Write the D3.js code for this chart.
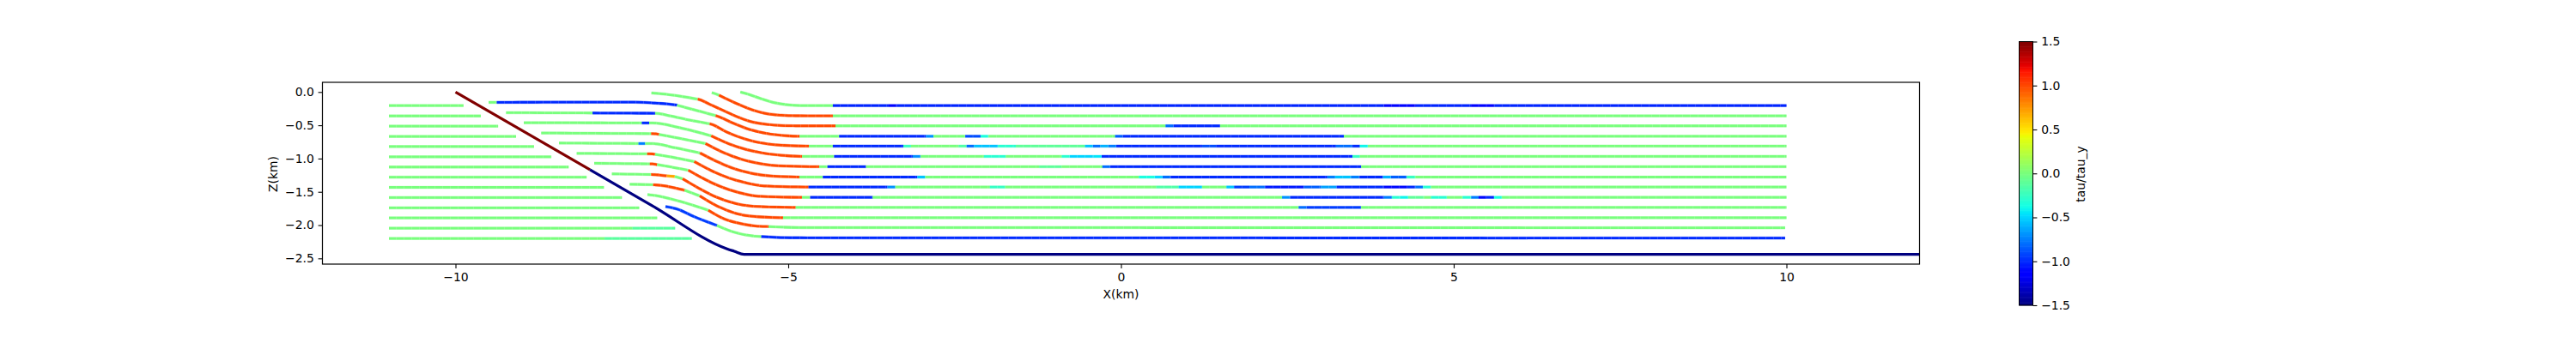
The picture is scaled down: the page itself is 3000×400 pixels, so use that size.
<!DOCTYPE html>
<html><head><meta charset="utf-8">
<script src="https://cdn.jsdelivr.net/npm/d3@7/dist/d3.min.js"></script>
<style>html,body{margin:0;padding:0;background:#fff}svg{display:block}text{font-family:"DejaVu Sans";fill:#000}</style>
</head><body><svg id="c" width="3000" height="400"></svg>
<script>
const xDomain=[-12,12], zDomain=[-2.586,0.1456], tauDomain=[-1.5,1.5];
const xTicks=[-10,-5,0,5,10], zTicks=[0,-0.5,-1,-1.5,-2,-2.5], tauTicks=[-1.5,-1,-0.5,0,0.5,1,1.5];
const xLabel="X(km)", zLabel="Z(km)", tauLabel="tau/tau_y";
// fault trace and its stress runs [xEnd,tau]
const faultKnots=[[-10,0],[-7.04,-1.712],[-5.92,-2.357],[-5.813,-2.392],[-5.663,-2.439],[12,-2.44]];
const faultRuns=[[-7.98,1.5],[12,-1.5]];
// footwall layers
const footwallStart=-11;
const footwallZ=[-0.205,-0.36,-0.513,-0.667,-0.82,-0.973,-1.127,-1.28,-1.433,-1.587,-1.74,-1.893,-2.046,-2.2];
const footwallRuns=[
 [[-9.88,0]],[[-9.62,0]],[[-9.36,0]],[[-9.09,0]],[[-8.82,0]],[[-8.56,0]],[[-8.30,0]],
 [[-8.03,0]],[[-7.77,0]],[[-7.50,0]],[[-7.24,0]],[[-6.97,0]],
 [[-7.34,0],[-6.70,-0.12]],[[-7.76,0],[-6.45,-0.12]]
];
// hanging-wall layers: knots [x,z]
const hangingKnots=[
 [[-5.72,0],[-5.58,-0.04],[-5.41,-0.10],[-5.23,-0.155],[-5.02,-0.19],[-4.80,-0.203],[-4.33,-0.205],[10,-0.203]],
 [[-6.149,-0.009],[-6.041,-0.048],[-5.749,-0.185],[-5.534,-0.271],[-5.319,-0.327],[-5.104,-0.349],[-4.888,-0.357],[-4.329,-0.358],[10,-0.358]],
 [[-7.056,-0.014],[-6.824,-0.035],[-6.609,-0.065],[-6.359,-0.108],[-6.179,-0.185],[-5.964,-0.284],[-5.749,-0.379],[-5.534,-0.452],[-5.319,-0.486],[-5.104,-0.503],[-4.888,-0.508],[-4.29,-0.508],[10,-0.508]],
 [[-9.503,-0.155],[-7.34,-0.152],[-7.04,-0.164],[-6.673,-0.198],[-6.351,-0.284],[-6.084,-0.357],[-5.835,-0.465],[-5.577,-0.564],[-5.319,-0.624],[-5.061,-0.654],[-4.833,-0.665],[10,-0.665]],
 [[-9.24,-0.31],[-6.996,-0.319],[-6.78,-0.358],[-6.48,-0.422],[-6.179,-0.478],[-5.921,-0.603],[-5.663,-0.702],[-5.405,-0.766],[-5.104,-0.800],[-4.691,-0.813],[10,-0.813]],
 [[-8.974,-0.461],[-7.04,-0.465],[-6.609,-0.542],[-6.157,-0.659],[-5.899,-0.775],[-5.641,-0.861],[-5.383,-0.917],[-5.104,-0.951],[-4.79,-0.968],[10,-0.968]],
 [[-8.712,-0.616],[-7.04,-0.625],[-6.944,-0.637],[-6.609,-0.701],[-6.243,-0.775],[-5.985,-0.904],[-5.727,-1.003],[-5.469,-1.067],[-5.189,-1.106],[-4.536,-1.123],[10,-1.123]],
 [[-8.445,-0.766],[-7.04,-0.775],[-6.695,-0.839],[-6.325,-0.917],[-6.067,-1.046],[-5.809,-1.153],[-5.551,-1.222],[-5.276,-1.261],[-4.833,-1.278],[10,-1.278]],
 [[-8.179,-0.921],[-7.04,-0.93],[-6.738,-0.981],[-6.411,-1.046],[-6.153,-1.183],[-5.895,-1.291],[-5.637,-1.364],[-5.362,-1.411],[-4.695,-1.428],[10,-1.428]],
 [[-7.916,-1.071],[-7.04,-1.08],[-6.781,-1.123],[-6.501,-1.175],[-6.243,-1.317],[-5.985,-1.433],[-5.727,-1.515],[-5.448,-1.566],[-4.794,-1.583],[10,-1.583]],
 [[-7.65,-1.23],[-7.04,-1.24],[-6.824,-1.261],[-6.704,-1.269],[-6.587,-1.304],[-6.329,-1.454],[-6.071,-1.583],[-5.813,-1.669],[-5.534,-1.716],[-4.888,-1.734],[10,-1.734]],
 [[-7.383,-1.385],[-7.026,-1.394],[-6.557,-1.476],[-6.329,-1.562],[-6.071,-1.712],[-5.813,-1.816],[-5.555,-1.867],[-5.078,-1.889],[10,-1.889]],
 [[-7.116,-1.54],[-7.039,-1.549],[-6.609,-1.648],[-6.2,-1.777],[-5.964,-1.906],[-5.706,-1.979],[-5.491,-2.013],[-5.297,-2.022],[-4.8,-2.037],[9.98,-2.039]],
 [[-6.845,-1.721],[-6.652,-1.764],[-6.437,-1.863],[-6.071,-2.005],[-5.835,-2.1],[-5.62,-2.151],[-5.405,-2.173],[-4.975,-2.19],[9.98,-2.194]]
];
// hanging-wall stress runs [xEnd,tau], in order along each layer
const hangingRuns=[
 [[-4.33,0],[-3.49,-1.02],[-3.37,-1.12],[3.95,-1.02],[4.43,-1.12],[5.26,-1.02],[5.61,-1.12],[10,-1.02]],
 [[-6.04,0],[-4.33,1],[10,0]],
 [[-6.36,0],[-4.29,1],[0.67,0],[0.79,-0.8],[1.49,-1],[10,0]],
 [[-9.38,0],[-6.67,-1],[-6.09,0],[-4.83,1],[-4.235,0],[-2.93,-1],[-2.815,-0.7],[-2.34,0],[-2.11,-0.9],[-1.99,-0.35],[-0.088,0],[0.03,-0.85],[3.35,-1],[10,0]],
 [[-7.94,0],[-7.0,-1],[-6.18,0],[-4.69,1],[-4.33,0],[-3.27,-1],[-3.155,-0.25],[-2.44,0],[-2.32,-0.15],[-2.21,-0.8],[-1.85,-0.55],[-1.58,-0.3],[-0.54,-0.1],[-0.42,-0.55],[-0.31,-0.8],[-0.19,-0.6],[-0.07,-0.75],[1.22,-1],[1.43,-0.9],[3.23,-1],[3.48,-0.8],[3.59,-1],[3.71,-0.4],[10,0]],
 [[-7.2,0],[-7.09,-1],[-6.157,0],[-4.79,1],[-4.31,0],[-3.13,-1],[-3.01,-0.7],[-2.06,0],[-1.73,-0.3],[-0.89,0],[-0.77,-0.3],[-0.415,-0.5],[-0.29,-0.45],[3.48,-1],[3.59,-0.25],[10,0]],
 [[-7.06,0],[-6.94,1],[-6.243,0],[-4.536,1],[-4.41,0],[-3.83,-1],[-1.23,0],[-0.89,-0.1],[-0.28,0],[-0.16,-0.8],[3.61,-1],[10,0]],
 [[-7.25,0],[-7.15,-0.75],[-6.325,0],[-4.833,1],[-4.48,0],[-3.06,-1],[-2.94,-0.55],[0.27,0],[0.51,-0.35],[0.626,-0.5],[0.747,-0.8],[3.10,-1],[3.22,-0.75],[3.456,-0.55],[3.585,-0.75],[3.938,-1],[4.058,-0.6],[4.295,-0.85],[4.424,-0.25],[10,0]],
 [[-7.12,0],[-7.0,1],[-6.411,0],[-4.695,1],[-3.51,-1],[-3.39,-0.7],[-1.97,0],[-1.74,-0.25],[0.53,0],[0.867,-0.15],[1.22,-0.5],[1.585,0],[1.70,-0.55],[1.93,-0.95],[2.166,-0.8],[2.747,-1.05],[3.005,-0.85],[3.24,-0.65],[3.95,-1],[4.303,-1.1],[4.424,-1],[4.54,-0.8],[4.66,-0.3],[10,0]],
 [[-7.08,0],[-6.97,1],[-6.501,0],[-4.794,1],[-4.67,0],[-3.73,-1],[2.42,0],[2.544,-0.7],[3.95,-1],[4.071,-0.75],[4.196,-0.3],[4.316,-0.4],[4.553,-0.1],[4.66,0],[4.897,-0.3],[5.133,0],[5.262,-0.3],[5.374,-0.75],[5.49,-1.1],[5.607,-1],[5.723,-0.35],[10,0]],
 [[-7.06,0],[-6.824,1],[-6.704,0.7],[-6.587,0],[-4.888,1],[2.67,0],[2.79,-0.8],[3.607,-0.95],[10,0]],
 [[-7.03,0],[-6.557,1],[-6.329,0],[-5.078,1],[10,0]],
 [[-6.2,0],[-5.297,1],[9.98,0]],
 [[-6.071,-0.95],[-5.405,0],[9.98,-1]]
];
const x=d3.scaleLinear().domain(xDomain).range([375.5,2235.5]);
const z=d3.scaleLinear().domain(zDomain).range([308,96]);
const tauY=d3.scaleLinear().domain(tauDomain).range([356,48.5]);
const jetDomain=[0,.11,.125,.34,.35,.375,.64,.65,.66,.89,.91,1];
const chan=v=>d3.scaleLinear().domain(jetDomain).range(v).clamp(true);
const R=chan([0,0,0,0,0,.08,.914,.968,1,1,.9,.5]);
const G=chan([0,0,0,.86,.9,1,1,.96,.92,.08,0,0]);
const B=chan([.5,1,1,1,.98,.9,.03,0,0,0,0,0]);
const tauT=d3.scaleLinear().domain(tauDomain).range([0,1]);
const jet=t=>{const u=tauT(t);return d3.rgb(R(u)*255,G(u)*255,B(u)*255).formatHex();};
const svg=d3.select("#c");
const line=d3.line().x(d=>x(d[0])).y(d=>z(d[1])).curve(d3.curveMonotoneX);
function zAt(k,xv){for(let i=1;i<k.length;i++){if(xv<=k[i][0]){const a=k[i-1],b=k[i];return a[1]+(b[1]-a[1])*(xv-a[0])/(b[0]-a[0]);}}return k[k.length-1][1];}
function drawRuns(g,knots,runs,w,dash){
  let s=knots[0][0];
  runs.forEach(r=>{
    const e=Math.min(r[0],knots[knots.length-1][0]);
    const pts=[[s,zAt(knots,s)],...knots.filter(p=>p[0]>s&&p[0]<e),[e,zAt(knots,e)]];
    if(dash){g.append("path").attr("d",line(pts)).attr("fill","none").attr("stroke",jet(r[1])).attr("stroke-opacity",0.4).attr("stroke-width",w+0.9);}
    g.append("path").attr("d",line(pts)).attr("fill","none").attr("stroke",jet(r[1])).attr("stroke-width",w).attr("stroke-dasharray",dash);
    s=e;
  });
}
const plot=svg.append("g");
const DASH="8.75 0.25";
footwallRuns.forEach((runs,i)=>{
  const end=runs[runs.length-1][0];
  drawRuns(plot,[[footwallStart,footwallZ[i]],[end,footwallZ[i]]],runs,2.8,DASH);
});
hangingKnots.forEach((k,i)=>drawRuns(plot,k,hangingRuns[i],2.8,DASH));
drawRuns(plot,faultKnots,faultRuns,3.2,null);
svg.append("rect").attr("x",375.5).attr("y",96).attr("width",1860).attr("height",212).attr("fill","none").attr("stroke","#000").attr("stroke-width",1.2);
const fs="13.9px";
const ax=svg.append("g").attr("transform","translate(0,308)").call(d3.axisBottom(x).tickValues(xTicks).tickFormat(d3.format("d")).tickSize(4.9).tickPadding(4.8));
const az=svg.append("g").attr("transform","translate(375.5,0)").call(d3.axisLeft(z).tickValues(zTicks).tickFormat(d3.format(".1f")).tickSize(4.9).tickPadding(4.8));
[ax,az].forEach(a=>{a.select(".domain").remove();a.selectAll("line").attr("stroke","#000").attr("stroke-width",1.1);a.selectAll("text").style("font-size",fs).style("font-family","DejaVu Sans").attr("fill","#000");});
svg.append("text").attr("x",1305.5).attr("y",347.5).attr("text-anchor","middle").style("font-size",fs).text(xLabel);
svg.append("text").attr("transform","translate(323,203) rotate(-90)").attr("text-anchor","middle").style("font-size",fs).text(zLabel);
const cb=svg.append("g");
const cbSteps=d3.range(256).map(i=>tauDomain[0]+(tauDomain[1]-tauDomain[0])*i/255);
const stepH=(tauY(tauDomain[0])-tauY(tauDomain[1]))/256;
cb.selectAll("rect").data(cbSteps).join("rect").attr("x",2351.5).attr("width",16).attr("y",(d,i)=>tauY(tauDomain[0])-(i+1)*stepH-0.3).attr("height",stepH+0.6).attr("fill",d=>jet(d));
cb.append("rect").attr("x",2351.5).attr("y",48.5).attr("width",16).attr("height",307.5).attr("fill","none").attr("stroke","#000").attr("stroke-width",1);
const ac=svg.append("g").attr("transform","translate(2367.5,0)").call(d3.axisRight(tauY).tickValues(tauTicks).tickFormat(d3.format(".1f")).tickSize(4.9).tickPadding(4.8));
ac.select(".domain").remove();ac.selectAll("line").attr("stroke","#000").attr("stroke-width",1.1);ac.selectAll("text").style("font-size",fs).style("font-family","DejaVu Sans").attr("fill","#000");
svg.append("text").attr("transform","translate(2428,203) rotate(-90)").attr("text-anchor","middle").style("font-size",fs).text(tauLabel);
</script></body></html>
